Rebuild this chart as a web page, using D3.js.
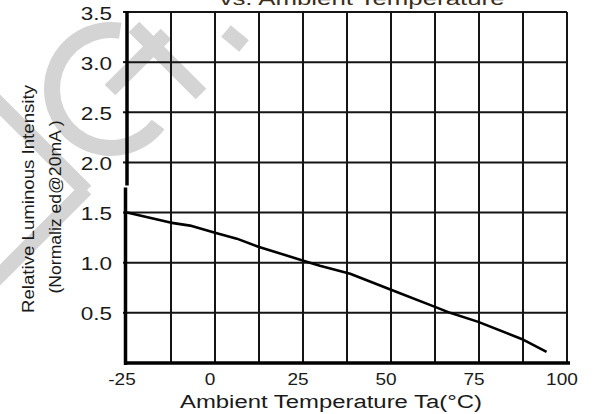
<!DOCTYPE html>
<html>
<head>
<meta charset="utf-8">
<script src="https://cdn.jsdelivr.net/npm/d3@7"></script>
<style>
  html, body { margin: 0; padding: 0; background: #fff; }
  svg { display: block; }
  text { font-family: "Liberation Sans", Arial, sans-serif; fill: #1a1a1a; }
</style>
</head>
<body>
<svg id="chart" width="594" height="414"></svg>
<script>
// ---- data ----
const temperature = [-25, -12.7, -7.1, 0, 6.2, 12.3, 25.1, 29.8, 38.4, 50, 62.5, 66.8, 74.8, 87.1, 94.2];
const luminous    = [1.50, 1.40, 1.37, 1.30, 1.24, 1.16, 1.02, 0.97, 0.89, 0.73, 0.56, 0.50, 0.41, 0.24, 0.11];
const xTickLabels = [-25, 0, 25, 50, 75, 100];
const yTickLabels = [0.5, 1.0, 1.5, 2.0, 2.5, 3.0, 3.5];
const xGrid = [-25, -12.5, 0, 12.5, 25, 37.5, 50, 62.5, 75, 87.5, 100];
const yGrid = [0.5, 1.0, 1.5, 2.0, 2.5, 3.0, 3.5];
const titleText = "vs. Ambient Temperature";
const xLabel = "Ambient Temperature Ta(°C)";
const yLabel1 = "Relative Luminous Intensity";
const yLabel2 = "(Normaliz ed@20mA )";

const svg = d3.select("#chart");
const x = d3.scaleLinear().domain([-25, 100]).range([127, 567]);
const y = d3.scaleLinear().domain([0, 3.5]).range([363, 12]);

// ---- light-grey watermark logo (decoration, behind everything) ----
const wmColor = "#d4d4d4";
const wm = svg.append("g");
wm.append("path")
  .attr("transform", "translate(111,89)")
  .attr("d", d3.arc()({ innerRadius: 51, outerRadius: 67,
                         startAngle: 127 * Math.PI / 180, endAngle: 369 * Math.PI / 180 }))
  .attr("fill", wmColor);
const wmStrokes = [
  [[-12, 93], [86, 191]],
  [[86, 189], [-12, 287]],
  [[110, 90], [166, 34]],
  [[134, 27], [201, 94]],
  [[226, 31], [244, 46]]
];
wm.selectAll("path.s").data(wmStrokes).join("path").attr("class", "s")
  .attr("d", d => d3.line()(d))
  .attr("stroke", wmColor).attr("stroke-width", 15).attr("fill", "none");

// title (clipped at top, as in the reference)
const t = svg.append("text").attr("x", 362).attr("y", 5).attr("text-anchor", "middle")
  .style("font-size", "19px").style("fill", "#3a2d1a").text(titleText);

// grid
svg.append("g").selectAll("line").data(xGrid.slice(1)).join("line")
  .attr("x1", d => x(d)).attr("x2", d => x(d)).attr("y1", y(3.5)).attr("y2", y(0))
  .attr("stroke", "#151515").attr("stroke-width", 2);
svg.append("g").selectAll("line").data(yGrid).join("line")
  .attr("x1", x(-25)).attr("x2", x(100)).attr("y1", d => y(d)).attr("y2", d => y(d))
  .attr("stroke", "#151515").attr("stroke-width", 2);

// y tick marks
svg.append("g").selectAll("line").data(yTickLabels).join("line")
  .attr("x1", x(-25) - 4).attr("x2", x(-25)).attr("y1", d => y(d)).attr("y2", d => y(d))
  .attr("stroke", "#151515").attr("stroke-width", 2);

// axes
svg.append("line").attr("x1", x(-25)).attr("x2", x(-25)).attr("y1", y(3.5) - 1).attr("y2", y(1.77))
  .attr("stroke", "#000").attr("stroke-width", 3.5);
svg.append("line").attr("x1", x(-25) - 1.5).attr("x2", x(-25) - 1.5).attr("y1", y(1.75)).attr("y2", y(0) + 2)
  .attr("stroke", "#000").attr("stroke-width", 3.5);
svg.append("line").attr("x1", x(-25) - 3).attr("x2", x(100) + 3).attr("y1", y(0)).attr("y2", y(0))
  .attr("stroke", "#000").attr("stroke-width", 3.5);

// curve
const line = d3.line().x((d, i) => x(temperature[i])).y(d => y(d));
svg.append("path").datum(luminous).attr("d", line)
  .attr("fill", "none").attr("stroke", "#000").attr("stroke-width", 2.6)
  .attr("stroke-linejoin", "round");

function stretch(sel, f) {
  sel.each(function() {
    const w = this.getComputedTextLength();
    d3.select(this).attr("textLength", w * f).attr("lengthAdjust", "spacingAndGlyphs");
  });
}

// y tick labels
const yl = svg.append("g").selectAll("text").data(yTickLabels).join("text")
  .attr("x", 112).attr("y", d => y(d) + 7.5).attr("text-anchor", "end")
  .style("font-size", "18px").text(d => d.toFixed(1));
stretch(yl, 1.25);

// x tick labels
const xl = svg.append("g").selectAll("text").data(xTickLabels).join("text")
  .attr("x", d => x(d) - 5).attr("y", 385).attr("text-anchor", "middle")
  .style("font-size", "17px").text(d => d);
stretch(xl, 1.12);

// axis titles
svg.append("text").attr("x", 331).attr("y", 408).attr("text-anchor", "middle")
  .style("font-size", "18px").text(xLabel)
  .attr("textLength", 302).attr("lengthAdjust", "spacingAndGlyphs");

svg.append("text").attr("transform", "translate(34,199) rotate(-90)")
  .attr("text-anchor", "middle").style("font-size", "16px").text(yLabel1)
  .attr("textLength", 228).attr("lengthAdjust", "spacingAndGlyphs");
svg.append("text").attr("transform", "translate(61,207) rotate(-90)")
  .attr("text-anchor", "middle").style("font-size", "16px").text(yLabel2)
  .attr("textLength", 173).attr("lengthAdjust", "spacingAndGlyphs");
t.attr("textLength", 285).attr("lengthAdjust", "spacingAndGlyphs");
</script>
</body>
</html>
